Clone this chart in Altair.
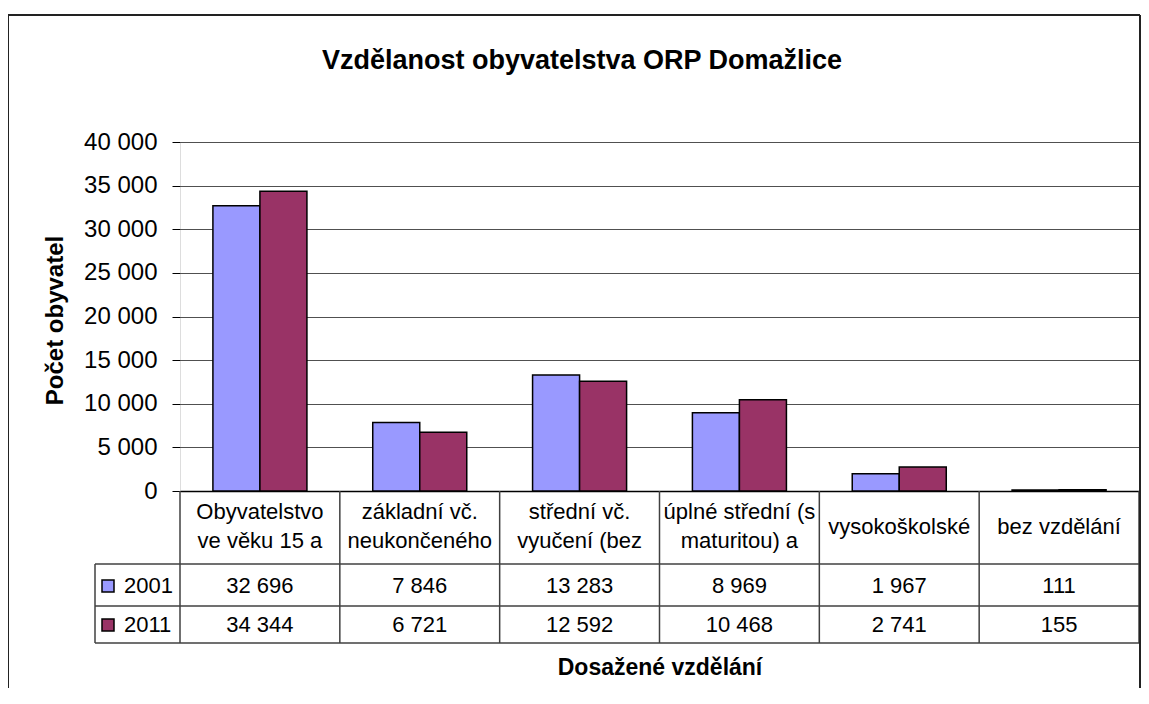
import altair as alt
import pandas as pd

categories = [
    "Obyvatelstvo\nve věku 15 a",
    "základní vč.\nneukončeného",
    "střední vč.\nvyučení (bez",
    "úplné střední (s\nmaturitou) a",
    "vysokoškolské",
    "bez vzdělání",
]
years = ["2001", "2011"]
values_2001 = [32696, 7846, 13283, 8969, 1967, 111]
values_2011 = [34344, 6721, 12592, 10468, 2741, 155]
y_ticks = [0, 5000, 10000, 15000, 20000, 25000, 30000, 35000, 40000]
colors = ["#9999FF", "#993366"]
chart_title = "Vzdělanost obyvatelstva ORP Domažlice"

rows = []
for c, v in zip(categories, values_2001):
    rows.append({"cat": c, "year": "2001", "value": v})
for c, v in zip(categories, values_2011):
    rows.append({"cat": c, "year": "2011", "value": v})
df = pd.DataFrame(rows)
cats_df = pd.DataFrame({"cat": categories})

FONT = "Liberation Sans"
W, H = 959, 349
LINE = "#404040"

xscale = alt.Scale(domain=categories, paddingInner=0, paddingOuter=0)
xenc = alt.X("cat:N", scale=xscale, sort=categories,
             axis=alt.Axis(labels=False, ticks=False, domain=True, domainColor="black",
                           domainWidth=1.5, grid=False, title="Dosažené vzdělání",
                           titleFont=FONT, titleFontSize=23, titleFontWeight="bold",
                           titleY=176, titleBaseline="middle"))

bars = alt.Chart(df).mark_bar(stroke="black", strokeWidth=1.5).encode(
    x=xenc,
    xOffset=alt.XOffset("year:N", scale=alt.Scale(domain=years, paddingInner=0, paddingOuter=0.70)),
    y=alt.Y("value:Q", scale=alt.Scale(domain=[0, 40000], nice=False),
            axis=alt.Axis(values=y_ticks, grid=True, gridColor="#505050", gridWidth=1,
                          domain=False, tickColor="black", tickSize=8, tickWidth=1,
                          labelFont=FONT, labelFontSize=24, labelColor="black", labelPadding=15,
                          labelExpr="replace(format(datum.value, ','), ',', ' ')",
                          title="Počet obyvatel", titleFont=FONT, titleFontSize=24,
                          titleFontWeight="bold", titleX=-125, titleY=178,
                          titleBaseline="middle", titleAlign="center")),
    color=alt.Color("year:N", scale=alt.Scale(domain=years, range=colors),
                    legend=alt.Legend(orient="none", legendX=-83, legendY=433, title=None,
                                      symbolType="square", symbolSize=144,
                                      symbolStrokeColor="black", symbolStrokeWidth=1.5,
                                      labelFont=FONT, labelFontSize=22, labelColor="black",
                                      labelOffset=5, rowPadding=17, padding=0)),
)

dummy = alt.Data(values=[{}])

def hrule(y, x1, x2, color=LINE, w=1.5):
    return alt.Chart(dummy).mark_rule(color=color, strokeWidth=w).encode(
        x=alt.value(x1), x2=alt.value(x2), y=alt.value(y))

def vrule(x, y1, y2, color=LINE, w=1.5):
    return alt.Chart(dummy).mark_rule(color=color, strokeWidth=w).encode(
        x=alt.value(x), y=alt.value(y1), y2=alt.value(y2))

cat_lines = alt.Chart(cats_df).mark_rule(color=LINE, strokeWidth=1.5).encode(
    x=alt.X("cat:N", scale=xscale, sort=categories, bandPosition=0),
    y=alt.value(H), y2=alt.value(501))

def header_layer(multi, ypix):
    test = "indexof(datum.cat, '\\n') >= 0" if multi else "indexof(datum.cat, '\\n') < 0"
    return alt.Chart(cats_df).transform_filter(test).mark_text(
        font=FONT, fontSize=22, lineBreak="\n", lineHeight=29,
        baseline="middle", color="black").encode(
        x=alt.X("cat:N", scale=xscale, sort=categories),
        y=alt.value(ypix), text="cat:N")

def value_row(year, ypix):
    return alt.Chart(df).transform_filter(alt.datum.year == year).transform_calculate(
        label="replace(format(datum.value, ','), ',', ' ')"
    ).mark_text(font=FONT, fontSize=22, baseline="middle", color="black").encode(
        x=alt.X("cat:N", scale=xscale, sort=categories),
        y=alt.value(ypix), text="label:N")

title_mark = alt.Chart(dummy).mark_text(
    font=FONT, fontSize=27, fontWeight="bold", color="black", baseline="middle"
).encode(x=alt.value(402), y=alt.value(-81), text=alt.value(chart_title))

chart = alt.layer(
    bars,
    cat_lines,
    vrule(W, H, 501),
    vrule(-85, 422, 501),
    hrule(422, -85, W),
    hrule(464, -85, W),
    hrule(501, -85, W),
    header_layer(True, 370),
    header_layer(False, 385),
    value_row("2001", 444),
    value_row("2011", 483),
    title_mark,
    hrule(-127, -172, W + 1, "#222222", 2),
    vrule(-172, -127, 546, "#222222", 2),
    vrule(W + 1, -127, 546, "#222222", 2),
).properties(
    width=W, height=H,
    autosize=alt.AutoSizeParams(type="none"),
    padding={"left": 172, "top": 134, "right": 2, "bottom": 197},
).configure_view(
    fill="#C0C0C0", stroke="#808080", strokeWidth=2
).configure(background="white")

chart.save("out.html", embed_options={"renderer": "svg", "actions": False})
